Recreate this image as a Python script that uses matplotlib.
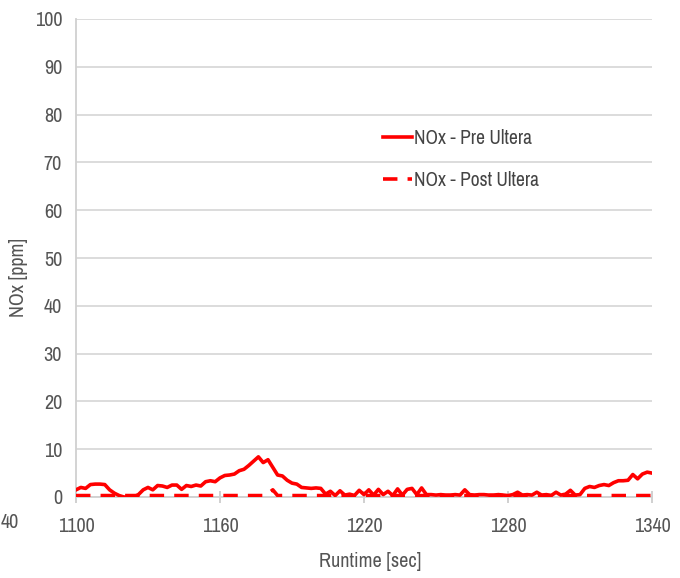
import numpy as np
import matplotlib
matplotlib.use("Agg")
import matplotlib.pyplot as plt

plt.rcParams['font.family'] = ['Archivo Narrow', 'Roboto Condensed', 'DejaVu Sans']

# ---- data ----
pre_time = np.arange(1100, 1341, 2)
pre_nox = [
    1.5, 2.0, 1.8, 2.6, 2.7, 2.7, 2.6, 1.5, 0.8, 0.3,   # 1100-1118
    0.0, 0.0, 0.0, 0.5, 1.5, 2.0, 1.5, 2.4, 2.3, 2.0,   # 1120-1138
    2.5, 2.5, 1.6, 2.4, 2.2, 2.5, 2.3, 3.2, 3.4, 3.2,   # 1140-1158
    4.0, 4.5, 4.6, 4.8, 5.5, 5.8, 6.6, 7.5, 8.4, 7.2,   # 1160-1178
    7.8, 6.2, 4.6, 4.4, 3.5, 2.9, 2.7, 2.0, 1.9, 1.8,   # 1180-1198
    1.9, 1.8, 0.6, 1.2, 0.3, 1.3, 0.4, 0.6, 0.3, 1.4,   # 1200-1218
    0.5, 1.5, 0.4, 1.6, 0.5, 1.2, 0.3, 1.7, 0.4, 1.6,   # 1220-1238
    1.8, 0.5, 1.9, 0.5, 0.5, 0.4, 0.5, 0.4, 0.4, 0.5,   # 1240-1258
    0.4, 1.5, 0.5, 0.4, 0.5, 0.5, 0.4, 0.4, 0.5, 0.4,   # 1260-1278
    0.3, 0.5, 1.0, 0.4, 0.5, 0.4, 1.0, 0.4, 0.5, 0.3,   # 1280-1298
    1.0, 0.4, 0.6, 1.4, 0.4, 0.5, 1.8, 2.2, 2.0, 2.4,   # 1300-1318
    2.6, 2.4, 3.0, 3.4, 3.4, 3.5, 4.7, 3.8, 4.8, 5.2,   # 1320-1338
    5.0,                                                # 1340
]
post_time = [1100, 1120, 1140, 1160, 1176, 1179, 1182, 1184, 1200, 1220,
             1240, 1260, 1280, 1300, 1320, 1340]
post_nox = [0.3, 0.3, 0.3, 0.3, 0.3, 0.3, 1.5, 0.3, 0.3, 0.3,
            0.3, 0.3, 0.3, 0.3, 0.3, 0.3]
x_ticks = [1100, 1160, 1220, 1280, 1340]
y_ticks = [0, 10, 20, 30, 40, 50, 60, 70, 80, 90, 100]

GRAY = '#555555'

# ---- figure ----
fig = plt.figure(figsize=(6.8, 5.78), dpi=100)
ax = fig.add_axes([76/680, 1-497/578, 576/680, 478/578])

ax.plot(pre_time, pre_nox, color='#ff0000', lw=2.6, label='NOx - Pre Ultera', zorder=3)
ax.plot(post_time, post_nox, color='#ff0000', lw=2.6, dashes=(4.0, 2.8),
        label='NOx - Post Ultera', zorder=3)

ax.set_xlim(1100, 1340)
ax.set_ylim(0, 100)
ax.set_xticks(x_ticks)
ax.set_yticks(y_ticks)
ax.grid(axis='y', color='#d9d9d9', lw=1.3)
ax.set_axisbelow(True)
for s in ['top', 'right']:
    ax.spines[s].set_visible(False)
for s in ['left', 'bottom']:
    ax.spines[s].set_color('#d0d0d0')
    ax.spines[s].set_linewidth(1.3)
ax.tick_params(axis='y', length=0, pad=10, labelsize=14.5, labelcolor=GRAY)
ax.tick_params(axis='x', length=9, width=1.2, direction='inout', color='#c8c8c8', pad=10,
               labelsize=14.5, labelcolor=GRAY)

ax.set_xlabel('Runtime [sec]', fontsize=14.5, color=GRAY)
ax.xaxis.set_label_coords(0.51, -0.115)
ax.set_ylabel('NOx [ppm]', fontsize=14.5, color=GRAY)
ax.yaxis.set_label_coords(-0.084, 0.46)

fig.text(0.5/680, 1-522/578, '40', fontsize=14.5, color=GRAY, ha='left', va='center')

leg = ax.legend(loc='upper left', bbox_to_anchor=(0.533, 0.77), frameon=False,
                borderpad=0, borderaxespad=0,
                fontsize=14, handlelength=1.5, handletextpad=0.1, labelspacing=1.2)
for t in leg.get_texts():
    t.set_color('#444444')

fig.savefig('out.png', dpi=100)
